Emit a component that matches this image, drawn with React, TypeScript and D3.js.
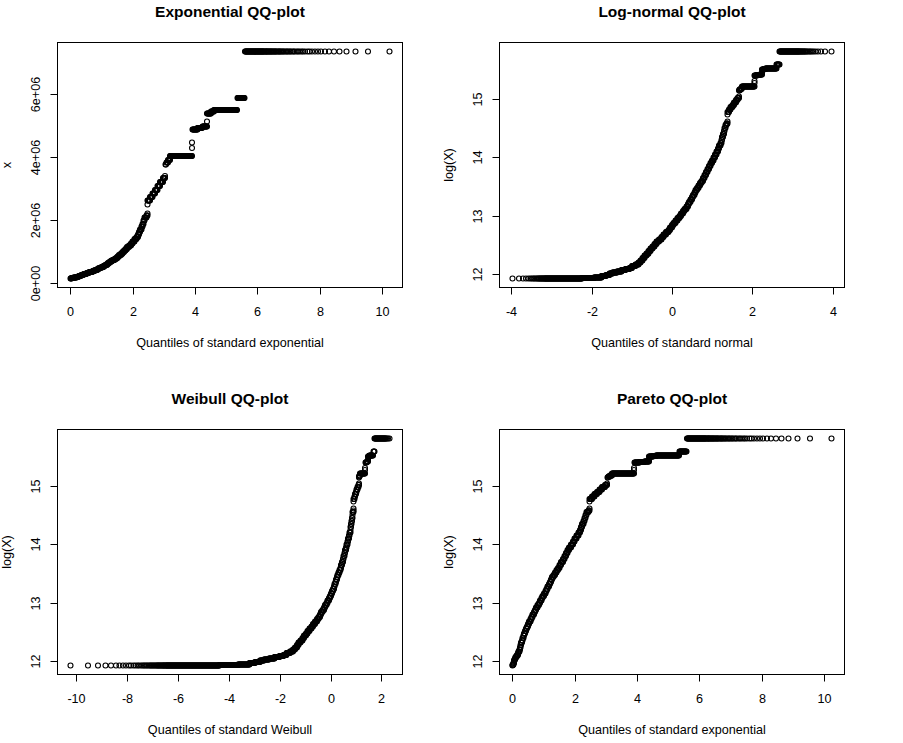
import React, { useMemo } from 'react';
import * as d3 from 'd3';

// sorted sample, stored as distinct log(X) values and how many observations sit on each
const LOG_LEVELS = [
  11.93, 11.94, 11.95, 11.97, 11.99, 12.01, 12.03, 12.05, 12.07, 12.09,
  12.11, 12.14, 12.17, 12.2, 12.24, 12.28, 12.32, 12.36, 12.4, 12.44,
  12.48, 12.52, 12.56, 12.6, 12.64, 12.68, 12.72, 12.76, 12.8, 12.84,
  12.88, 12.92, 12.96, 13.0, 13.04, 13.08, 13.12, 13.16, 13.2, 13.24,
  13.28, 13.32, 13.36, 13.4, 13.44, 13.48, 13.52, 13.56, 13.6, 13.65,
  13.7, 13.75, 13.8, 13.85, 13.9, 13.95, 14.0, 14.05, 14.1, 14.15,
  14.2, 14.25, 14.3, 14.35, 14.4, 14.45, 14.5, 14.55, 14.58, 14.61,
  14.73, 14.78, 14.82, 14.86, 14.9, 14.94, 14.98, 15.02, 15.04, 15.14,
  15.16, 15.18, 15.21, 15.27, 15.31, 15.4, 15.41, 15.42, 15.45, 15.5,
  15.51, 15.52, 15.585, 15.81,
];
const LEVEL_COUNTS = [
  353, 375, 392, 280, 280, 280, 420, 560, 560, 560,
  448, 616, 560, 420, 420, 420, 392, 504, 504, 504,
  504, 504, 616, 616, 616, 672, 588, 476, 504, 504,
  532, 532, 532, 476, 448, 448, 504, 364, 364, 336,
  336, 280, 308, 308, 280, 364, 336, 336, 308, 308,
  308, 280, 252, 252, 252, 252, 252, 224, 224, 196,
  168, 112, 112, 112, 112, 84, 84, 140, 70, 1,
  1, 182, 168, 168, 140, 140, 140, 98, 1, 42,
  70, 70, 588, 1, 1, 84, 70, 56, 1, 42,
  28, 148, 28, 104,
];

const EXP_TICKS = [0, 2, 4, 6, 8, 10];
const NORMAL_TICKS = [-4, -2, 0, 2, 4];
const WEIBULL_TICKS = [-10, -8, -6, -4, -2, 0, 2];
const LOG_TICKS = [12, 13, 14, 15];
const RAW_TICKS = [0, 2e6, 4e6, 6e6];
const RAW_TICK_LABELS = ['0e+00', '2e+06', '4e+06', '6e+06'];

// Acklam's approximation of the standard normal quantile
const qnorm = (p: number) => {
  const a = [-3.969683028665376e1, 2.209460984245205e2, -2.759285104469687e2, 1.38357751867269e2, -3.066479806614716e1, 2.506628277459239];
  const b = [-5.447609879822406e1, 1.615858368580409e2, -1.556989798598866e2, 6.680131188771972e1, -1.328068155288572e1];
  const c = [-7.784894002430293e-3, -3.223964580411365e-1, -2.400758277161838, -2.549732539343734, 4.374664141464880, 2.938163982698783];
  const d = [7.784695709041462e-3, 3.224671290700398e-1, 2.445134137142996, 3.754408661907416];
  const plow = 0.02425;
  if (p < plow) {
    const q = Math.sqrt(-2 * Math.log(p));
    return (((((c[0] * q + c[1]) * q + c[2]) * q + c[3]) * q + c[4]) * q + c[5]) / ((((d[0] * q + d[1]) * q + d[2]) * q + d[3]) * q + 1);
  }
  if (p > 1 - plow) {
    const q = Math.sqrt(-2 * Math.log(1 - p));
    return -(((((c[0] * q + c[1]) * q + c[2]) * q + c[3]) * q + c[4]) * q + c[5]) / ((((d[0] * q + d[1]) * q + d[2]) * q + d[3]) * q + 1);
  }
  const q = p - 0.5;
  const r = q * q;
  return (((((a[0] * r + a[1]) * r + a[2]) * r + a[3]) * r + a[4]) * r + a[5]) * q / (((((b[0] * r + b[1]) * r + b[2]) * r + b[3]) * r + b[4]) * r + 1);
};

const qexp = (p: number) => -Math.log1p(-p);
const qweibull = (p: number) => Math.log(-Math.log1p(-p));

const BOX_W = 345;
const BOX_H = 245;
const FONT = 'Arial, "Liberation Sans", Helvetica, sans-serif';

const PANELS = [
  { title: 'Exponential QQ-plot', xLabel: 'Quantiles of standard exponential', yLabel: 'x', left: 57.5, top: 42.5, qf: qexp, raw: true, xTicks: EXP_TICKS },
  { title: 'Log-normal QQ-plot', xLabel: 'Quantiles of standard normal', yLabel: 'log(X)', left: 499.5, top: 42.5, qf: qnorm, raw: false, xTicks: NORMAL_TICKS },
  { title: 'Weibull QQ-plot', xLabel: 'Quantiles of standard Weibull', yLabel: 'log(X)', left: 57.5, top: 429.5, qf: qweibull, raw: false, xTicks: WEIBULL_TICKS },
  { title: 'Pareto QQ-plot', xLabel: 'Quantiles of standard exponential', yLabel: 'log(X)', left: 499.5, top: 429.5, qf: qexp, raw: false, xTicks: EXP_TICKS },
];

// R style axis range: data range widened by 4%
const widen = ([lo, hi]: [number, number]) => {
  const pad = (hi - lo) * 0.04;
  return [lo - pad, hi + pad];
};

const Panel = ({ cfg, sample }: { cfg: typeof PANELS[number]; sample: number[] }) => {
  const { left, top } = cfg;
  const right = left + BOX_W;
  const bottom = top + BOX_H;

  const { x, y, pts } = useMemo(() => {
    const n = sample.length;
    const xs = sample.map((_, i) => cfg.qf((i + 1) / (n + 1)));
    const ys = sample.map(v => (cfg.raw ? Math.exp(v) : v));
    const x = d3.scaleLinear().domain(widen(d3.extent(xs) as [number, number])).range([left, right]);
    const y = d3.scaleLinear().domain(widen(d3.extent(ys) as [number, number])).range([bottom, top]);
    const seen = new Set<string>();
    const pts: [number, number][] = [];
    xs.forEach((xv, i) => {
      const px = Math.round(x(xv) * 2) / 2;
      const py = Math.round(y(ys[i]) * 2) / 2;
      const k = px + ',' + py;
      if (seen.has(k)) return;
      seen.add(k);
      pts.push([px, py]);
    });
    return { x, y, pts };
  }, [cfg, sample]);

  const yTicks = cfg.raw ? RAW_TICKS : LOG_TICKS;
  const yTickText = (v: number, i: number) => (cfg.raw ? RAW_TICK_LABELS[i] : String(v));

  return (
    <g fontFamily={FONT} fill="#000">
      <text x={(left + right) / 2} y={top - 25.5} textAnchor="middle" fontSize={15.5} fontWeight="bold">{cfg.title}</text>
      <g>
        {pts.map(([px, py], i) => (
          <circle key={i} cx={px} cy={py} r={2.5} fill="none" stroke="#000" strokeWidth={1.1} />
        ))}
      </g>
      <rect x={left} y={top} width={BOX_W} height={BOX_H} fill="none" stroke="#000" strokeWidth={1} />
      {cfg.xTicks.map(t => {
        const tx = Math.round(x(t)) + 0.5;
        return (
          <g key={'x' + t}>
            <line x1={tx} x2={tx} y1={bottom} y2={bottom + 7} stroke="#000" />
            <text x={tx} y={bottom + 28.8} textAnchor="middle" fontSize={12.6}>{t < 0 ? '-' + Math.abs(t) : t}</text>
          </g>
        );
      })}
      {yTicks.map((t, i) => {
        const ty = Math.round(y(t)) + 0.5;
        return (
          <g key={'y' + t}>
            <line x1={left - 7} x2={left} y1={ty} y2={ty} stroke="#000" />
            <text transform={`translate(${left - 17.5},${ty}) rotate(-90)`} textAnchor="middle" fontSize={12.6}>{yTickText(t, i)}</text>
          </g>
        );
      })}
      <text x={(left + right) / 2} y={bottom + 59.5} textAnchor="middle" fontSize={12.6}>{cfg.xLabel}</text>
      <text transform={`translate(${left - 47},${(top + bottom) / 2}) rotate(-90)`} textAnchor="middle" fontSize={12.6}>{cfg.yLabel}</text>
    </g>
  );
};

export default function App() {
  const sample = useMemo(() => {
    const s: number[] = [];
    LOG_LEVELS.forEach((v, i) => {
      for (let k = 0; k < LEVEL_COUNTS[i]; k++) s.push(v);
    });
    return s;
  }, []);

  return (
    <div style={{ position: 'absolute', left: 0, top: 0 }}>
      <svg width={903} height={743} style={{ display: 'block', background: '#fff' }}>
        {PANELS.map(p => (
          <Panel key={p.title} cfg={p} sample={sample} />
        ))}
      </svg>
    </div>
  );
}
